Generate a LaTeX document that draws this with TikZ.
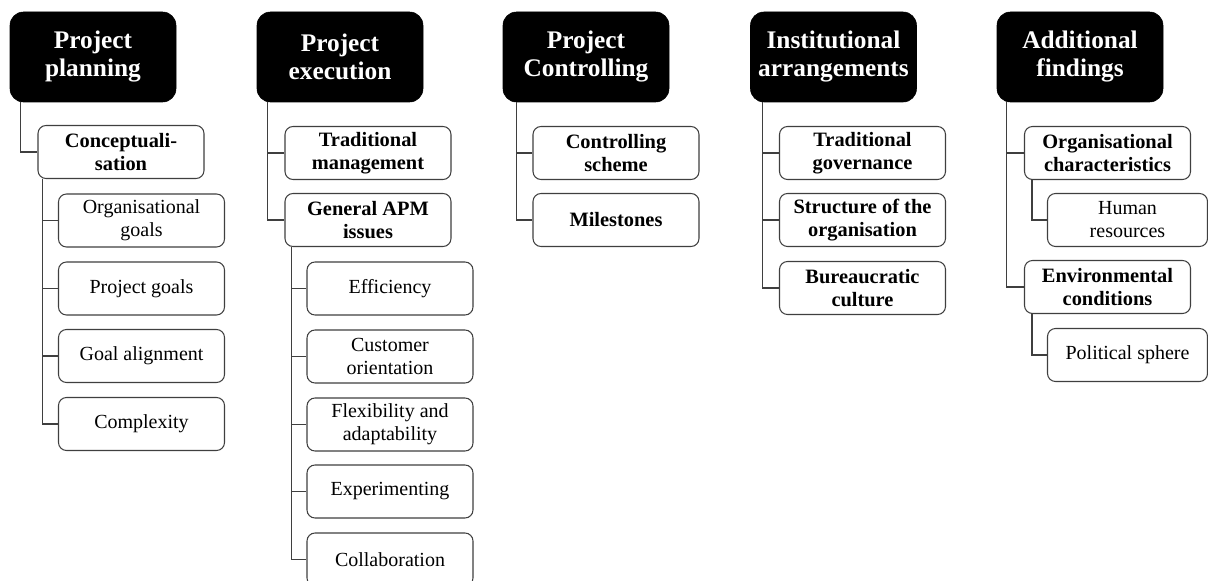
\documentclass[tikz,border=0pt]{standalone}
\usepackage{fontspec}
\setmainfont{Liberation Serif}
\usetikzlibrary{positioning}

\definecolor{linegray}{HTML}{3F3F3F}

\tikzset{
  topbox/.style={draw=black, fill=black, rounded corners=10pt, text=white,
    minimum width=124.5pt, minimum height=67.5pt, align=center,
    font=\fontsize{19}{21}\selectfont\bfseries},
  mainbox/.style={draw=linegray, line width=0.8pt, rounded corners=6pt, fill=white,
    minimum width=124.5pt, minimum height=39.75pt, align=center, inner sep=1pt,
    font=\fontsize{15.3}{17.3}\selectfont\bfseries},
  subbox/.style={mainbox, font=\fontsize{15}{17.3}\selectfont},
  link/.style={draw=linegray, line width=0.8pt}
}

\begin{document}
\begin{tikzpicture}[x=0.75pt, y=-0.75pt]
\useasboundingbox (0,0) rectangle (1208,581);

% Column headers
\node[topbox] (plan) at (93,57) {Project\\planning};
\node[topbox] (exec) at (340,57) {Project\\execution};
\node[topbox] (ctrl) at (586,57) {Project\\Controlling};
\node[topbox] (inst) at (833.5,57) {Institutional\\arrangements};
\node[topbox] (addf) at (1080,57) {Additional\\findings};

% Project planning
\node[mainbox] (concept) at (121,152) {Conceptuali-\\sation};
\node[subbox] (orggoals) at (141.5,220.5) {Organisational\\goals};
\node[subbox] (projgoals) at (141.5,288.5) {Project goals};
\node[subbox] (align) at (141.5,356) {Goal alignment};
\node[subbox] (complex) at (141.5,424) {Complexity};

% Project execution
\node[mainbox] (tradmgmt) at (368,153) {Traditional\\management};
\node[mainbox] (apm) at (368,220) {General APM\\issues};
\node[subbox] (effic) at (390,288.5) {Efficiency};
\node[subbox] (custom) at (390,356.5) {Customer\\orientation};
\node[subbox] (flex) at (390,424.5) {Flexibility and\\adaptability};
\node[subbox] (experi) at (390,491.5) {Experimenting};
\node[subbox] (collab) at (390,559.5) {Collaboration};

% Project controlling
\node[mainbox] (scheme) at (616,153) {Controlling\\scheme};
\node[mainbox] (miles) at (616,220) {Milestones};

% Institutional arrangements
\node[mainbox] (tradgov) at (862.5,153) {Traditional\\governance};
\node[mainbox] (struct) at (862.5,220) {Structure of the\\organisation};
\node[mainbox] (bureau) at (862.5,288) {Bureaucratic\\culture};

% Additional findings
\node[mainbox] (orgchar) at (1107.5,153) {Organisational\\characteristics};
\node[subbox, minimum width=120pt] (human) at (1127.5,220) {Human\\resources};
\node[mainbox] (environ) at (1107.5,287) {Environmental\\conditions};
\node[subbox, minimum width=120pt] (politic) at (1127.5,355) {Political sphere};

% Connectors, headers to first level
\draw[link] ([xshift=8.25pt]plan.south west) |- (concept.west);
\draw[link] ([xshift=8.25pt]exec.south west) |- (tradmgmt.west);
\draw[link] ([xshift=8.25pt]exec.south west) |- (apm.west);
\draw[link] ([xshift=10pt]ctrl.south west) |- (scheme.west);
\draw[link] ([xshift=10pt]ctrl.south west) |- (miles.west);
\draw[link] ([xshift=9pt]inst.south west) |- (tradgov.west);
\draw[link] ([xshift=9pt]inst.south west) |- (struct.west);
\draw[link] ([xshift=9pt]inst.south west) |- (bureau.west);
\draw[link] ([xshift=7.5pt]addf.south west) |- (orgchar.west);
\draw[link] ([xshift=7.5pt]addf.south west) |- (environ.west);

% Connectors, first level to second level
\draw[link] ([xshift=4pt]concept.south west) |- (orggoals.west);
\draw[link] ([xshift=4pt]concept.south west) |- (projgoals.west);
\draw[link] ([xshift=4pt]concept.south west) |- (align.west);
\draw[link] ([xshift=4pt]concept.south west) |- (complex.west);
\draw[link] ([xshift=5.25pt]apm.south west) |- (effic.west);
\draw[link] ([xshift=5.25pt]apm.south west) |- (custom.west);
\draw[link] ([xshift=5.25pt]apm.south west) |- (flex.west);
\draw[link] ([xshift=5.25pt]apm.south west) |- (experi.west);
\draw[link] ([xshift=5.25pt]apm.south west) |- (collab.west);
\draw[link] ([xshift=6pt]orgchar.south west) |- (human.west);
\draw[link] ([xshift=6pt]environ.south west) |- (politic.west);

\end{tikzpicture}
\end{document}
